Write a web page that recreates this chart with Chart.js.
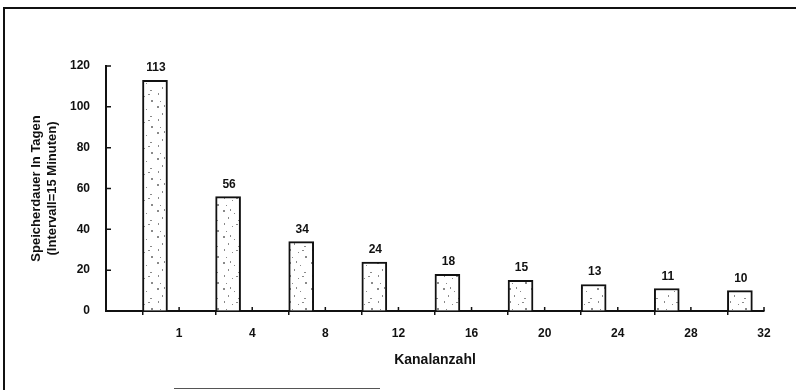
<!DOCTYPE html>
<html>
<head>
<meta charset="utf-8">
<script src="https://cdn.jsdelivr.net/npm/chart.js@4/dist/chart.umd.min.js"></script>
<style>
  html, body { margin: 0; padding: 0; background: #fff; }
  #wrap { position: relative; width: 796px; height: 390px; overflow: hidden; }
  #chart { position: absolute; left: 0; top: 0; }
  .frame { position: absolute; left: 3px; top: 7px; width: 800px; height: 400px;
           border-left: 2px solid #111; border-top: 2px solid #111; }
  .scanline { position: absolute; left: 174px; top: 388px; width: 206px; height: 1px; background: #555; }
</style>
</head>
<body>
<div id="wrap">
  <canvas id="chart" width="796" height="390"></canvas>
  <div class="frame"></div>
  <div class="scanline"></div>
</div>
<script>
// Kanalanzahl (x) und Speicherdauer in Tagen (y)
const categories = ['1', '4', '8', '12', '16', '20', '24', '28', '32'];
const storageDays = [113, 56, 34, 24, 18, 15, 13, 11, 10];
const yTickValues = [0, 20, 40, 60, 80, 100, 120];

const INK = '#111';
const FONT = '"Liberation Sans", Arial, sans-serif';
// bar sits in the right half of each interval (left edge on the interval centre)
const BAR_SHIFT = 0.67;

// punktiertes Füllmuster wie im Scan
function stipple() {
  const c = document.createElement('canvas');
  c.width = 22;
  c.height = 26;
  const g = c.getContext('2d');
  g.fillStyle = '#fff';
  g.fillRect(0, 0, c.width, c.height);
  const specks = [[3, 2], [14, 5], [8, 9], [18, 12], [4, 15], [12, 18], [19, 22], [6, 23], [10, 1], [16, 16]];
  g.fillStyle = '#8a8a8a';
  specks.forEach(([x, y], i) => {
    g.fillRect(x, y, i % 3 === 0 ? 2 : 1, i % 2 === 0 ? 2 : 1);
  });
  return g.createPattern(c, 'repeat');
}

const innerTicks = {
  id: 'innerTicks',
  afterDraw(chart) {
    const { ctx, scales: { x, y } } = chart;
    ctx.save();
    ctx.strokeStyle = INK;
    ctx.lineWidth = 1.5;
    ctx.beginPath();
    for (let k = 1; k <= categories.length; k++) {
      const px = x.getPixelForValue(k);
      ctx.moveTo(px, y.bottom);
      ctx.lineTo(px, y.bottom - 4);
    }
    yTickValues.forEach((v) => {
      const py = y.getPixelForValue(v);
      ctx.moveTo(x.left - 1, py);
      ctx.lineTo(x.left + 5, py);
    });
    ctx.stroke();
    ctx.restore();
  }
};

const valueLabels = {
  id: 'valueLabels',
  afterDatasetsDraw(chart) {
    const { ctx } = chart;
    const meta = chart.getDatasetMeta(0);
    ctx.save();
    ctx.font = `bold 12px ${FONT}`;
    ctx.fillStyle = INK;
    ctx.textAlign = 'center';
    ctx.textBaseline = 'alphabetic';
    meta.data.forEach((bar, i) => {
      ctx.fillText(String(storageDays[i]), bar.x + 1, bar.y - 9);
    });
    ctx.restore();
  }
};

new Chart(document.getElementById('chart'), {
  type: 'bar',
  plugins: [innerTicks, valueLabels],
  data: {
    datasets: [{
      data: storageDays.map((v, i) => ({ x: i + BAR_SHIFT, y: v })),
      backgroundColor: stipple(),
      borderColor: INK,
      borderWidth: 2,
      borderSkipped: 'start',
      barThickness: 25
    }]
  },
  options: {
    responsive: false,
    animation: false,
    layout: { padding: { left: 0, top: 66, right: 32, bottom: 0 } },
    plugins: { legend: { display: false }, tooltip: { enabled: false } },
    scales: {
      x: {
        type: 'linear',
        offset: false,
        min: 0,
        max: categories.length,
        afterFit: (s) => { s.height = 79; },
        grid: { drawOnChartArea: false, drawTicks: true, tickLength: 4, color: INK, lineWidth: 1.5 },
        border: { display: true, color: INK, width: 2 },
        ticks: {
          stepSize: 1,
          padding: 11,
          color: INK,
          font: { family: FONT, size: 12, weight: 'bold' },
          callback: (v) => (v === 0 ? '' : categories[v - 1])
        },
        title: {
          display: true,
          text: 'Kanalanzahl',
          color: INK,
          font: { family: FONT, size: 14, weight: 'bold', lineHeight: 1.2 },
          padding: { top: 0, bottom: 21 }
        }
      },
      y: {
        min: 0,
        max: 120,
        afterFit: (s) => { s.width = 106; },
        afterBuildTicks: (s) => { s.ticks = yTickValues.map((v) => ({ value: v })); },
        grid: { drawOnChartArea: false, drawTicks: false },
        border: { display: true, color: INK, width: 2 },
        ticks: {
          padding: 16,
          color: INK,
          font: { family: FONT, size: 12, weight: 'bold' }
        },
        title: {
          display: true,
          text: ['Speicherdauer In Tagen', '(Intervall=15 Minuten)'],
          color: INK,
          font: { family: FONT, size: 13, weight: 'bold', lineHeight: 1.2 },
          padding: { top: 29, bottom: 0 }
        }
      }
    }
  }
});
</script>
</body>
</html>
